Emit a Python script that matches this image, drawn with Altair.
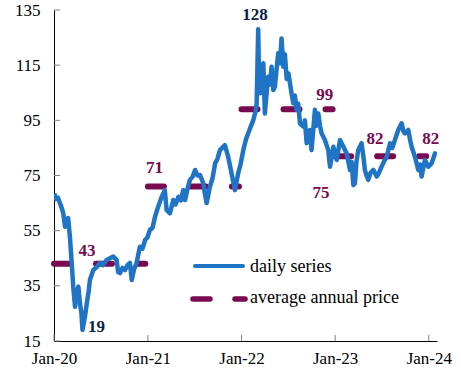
import altair as alt
import pandas as pd

# ---- daily series ----
dates = [
    "2020-01-02", "2020-01-09", "2020-01-16", "2020-01-24", "2020-02-01", "2020-02-06",
    "2020-02-13", "2020-02-18", "2020-02-25", "2020-03-03", "2020-03-10", "2020-03-16",
    "2020-03-23", "2020-03-28", "2020-04-05", "2020-04-11", "2020-04-17", "2020-04-21",
    "2020-05-01", "2020-05-08", "2020-05-15", "2020-05-20", "2020-06-02", "2020-06-17",
    "2020-06-28", "2020-07-10", "2020-07-24", "2020-08-06", "2020-08-19", "2020-09-01",
    "2020-09-07", "2020-09-14", "2020-09-24", "2020-10-04", "2020-10-13", "2020-10-23",
    "2020-10-30", "2020-11-08", "2020-11-18", "2020-12-01", "2020-12-11", "2020-12-21",
    "2020-12-30", "2021-01-09", "2021-01-19", "2021-01-29", "2021-02-10", "2021-02-24",
    "2021-03-08", "2021-03-15", "2021-03-28", "2021-04-10", "2021-04-19", "2021-04-30",
    "2021-05-10", "2021-05-19", "2021-05-26", "2021-06-04", "2021-06-14", "2021-06-24",
    "2021-07-04", "2021-07-13", "2021-07-23", "2021-08-05", "2021-08-11", "2021-08-18",
    "2021-08-31", "2021-09-10", "2021-09-20", "2021-09-29", "2021-10-09", "2021-10-28",
    "2021-11-10", "2021-11-23", "2021-12-06", "2021-12-19", "2021-12-28", "2022-01-08",
    "2022-01-18", "2022-01-27", "2022-02-07", "2022-02-16", "2022-02-24", "2022-03-01",
    "2022-03-07", "2022-03-10", "2022-03-14", "2022-03-20", "2022-03-27", "2022-04-02",
    "2022-04-08", "2022-04-15", "2022-04-22", "2022-04-28", "2022-05-05", "2022-05-11",
    "2022-05-17", "2022-05-24", "2022-05-31", "2022-06-06", "2022-06-13", "2022-06-19",
    "2022-06-26", "2022-07-03", "2022-07-15", "2022-07-22", "2022-07-28", "2022-08-04",
    "2022-08-10", "2022-08-17", "2022-08-30", "2022-09-05", "2022-09-12", "2022-09-18",
    "2022-09-25", "2022-10-01", "2022-10-08", "2022-10-14", "2022-10-20", "2022-10-27",
    "2022-11-03", "2022-11-09", "2022-11-22", "2022-12-05", "2022-12-12", "2022-12-25",
    "2023-01-07", "2023-01-20", "2023-02-02", "2023-02-15", "2023-02-28", "2023-03-06",
    "2023-03-13", "2023-03-19", "2023-03-25", "2023-04-01", "2023-04-14", "2023-04-21",
    "2023-04-27", "2023-05-03", "2023-05-10", "2023-05-19", "2023-05-30", "2023-06-12",
    "2023-06-21", "2023-07-01", "2023-07-10", "2023-07-21", "2023-08-03", "2023-08-12",
    "2023-08-22", "2023-09-04", "2023-09-17", "2023-09-24", "2023-09-30", "2023-10-13",
    "2023-10-20", "2023-10-26", "2023-11-08", "2023-11-21", "2023-11-28", "2023-12-04",
    "2023-12-11", "2023-12-17", "2023-12-30", "2024-01-12", "2024-01-25", "2024-02-01",
]
prices = [
    68.5, 66.5, 67.0, 65.0, 63.0, 61.4,
    56.4, 58.0, 59.6, 52.8, 43.3, 34.7,
    27.4, 32.0, 34.7, 28.8, 25.0, 19.0,
    24.0, 28.8, 33.0, 37.1, 40.7, 42.0,
    43.3, 42.5, 44.4, 45.0, 45.6, 44.4,
    40.0, 39.6, 41.5, 40.7, 42.5, 43.3,
    37.1, 41.0, 43.3, 49.2, 48.5, 51.6,
    52.5, 55.3, 56.0, 60.1, 63.7, 67.3,
    69.7, 62.5, 61.3, 66.1, 64.5, 67.3,
    66.0, 69.7, 66.1, 70.0, 73.4, 74.5,
    77.0, 75.0, 75.2, 72.2, 68.5, 65.0,
    71.0, 74.0, 79.4, 81.0, 84.2, 86.0,
    81.8, 75.8, 69.7, 75.8, 79.0, 84.2,
    88.0, 90.3, 93.0, 95.1, 98.0, 101.0,
    128.0, 112.0, 104.8, 110.0, 115.7, 97.5,
    104.0, 110.8, 108.0, 114.4, 106.0, 107.2,
    113.0, 119.3, 115.7, 124.7, 114.4, 119.0,
    110.0, 112.0, 104.8, 101.2, 104.0, 98.8,
    101.0, 93.9, 92.7, 95.0, 86.7, 90.0,
    91.5, 84.2, 92.0, 98.8, 93.0, 97.5,
    93.0, 90.3, 87.9, 84.2, 78.2, 85.4,
    80.6, 87.9, 85.4, 83.0, 77.0, 80.0,
    71.5, 72.2, 80.0, 84.2, 86.7, 82.0,
    77.0, 75.0, 73.4, 76.0, 77.0, 74.6,
    76.0, 78.2, 80.0, 81.8, 86.7, 85.0,
    87.9, 91.5, 93.9, 91.0, 90.3, 91.5,
    88.0, 85.4, 81.8, 77.0, 79.0, 74.6,
    78.0, 80.6, 78.2, 79.4, 83.0, 82.5,
]

# ---- average annual price ----
avg_start = ["2020-01-01", "2021-01-01", "2022-01-01", "2023-01-01"]
avg_end = ["2020-12-22", "2021-12-22", "2022-12-22", "2023-12-22"]
avg_values = [43, 71, 99, 82]

# ---- annotations ----
ann_text = ["43", "71", "128", "99", "75", "82", "82", "19"]
ann_dates = ["2020-05-09", "2021-01-27", "2022-02-23", "2022-11-21",
             "2022-11-07", "2023-06-05", "2024-01-09", "2020-06-15"]
ann_values = [47.6, 77.9, 133.2, 104.3, 68.7, 88.1, 88.1, 20.1]
ann_colors = ["#7A0A50", "#7A0A50", "#0A1E46", "#7A0A50",
              "#7A0A50", "#7A0A50", "#7A0A50", "#0A1E46"]

y_ticks = [15, 35, 55, 75, 95, 115, 135]
x_tick_dates = ["2020-01-01", "2021-01-01", "2022-01-01", "2023-01-01", "2024-01-01"]

legend_labels = ["daily series", "average annual price"]

BLUE = "#1F74C6"
MAROON = "#7A0A50"
FONT = "'Liberation Serif'"
W, H = 383, 331

T = "T00:00:00"
daily = pd.DataFrame({"date": [d + T for d in dates], "price": prices})
avg = pd.DataFrame({"start": [d + T for d in avg_start],
                    "end": [d + T for d in avg_end], "avg": avg_values})
ann = pd.DataFrame({"date": [d + T for d in ann_dates], "v": ann_values,
                    "label": ann_text, "color": ann_colors})
yt = pd.DataFrame({"v": y_ticks})
xt = pd.DataFrame({"date": [d + T for d in x_tick_dates]})

x_scale = alt.Scale(domain=[alt.DateTime(year=2020, month=1, date=1),
                            alt.DateTime(year=2024, month=2, date=2)])
y_scale = alt.Scale(domain=[15, 135], nice=False, zero=False)

x_axis = alt.Axis(
    values=[alt.DateTime(year=y, month=1, date=1) for y in range(2020, 2025)],
    format="%b-%y", title=None, grid=False, ticks=False, labelPadding=9,
    labelFont=FONT, labelFontSize=17, labelColor="black", domainColor="black",
    labelAngle=0, labelFlush=False,
)
y_axis = alt.Axis(
    values=y_ticks, title=None, grid=False, ticks=False, labelPadding=14,
    labelFont=FONT, labelFontSize=17, labelColor="black", domainColor="black",
)

line = alt.Chart(daily).mark_line(
    color=BLUE, strokeWidth=4.5, strokeJoin="round", clip=True
).encode(
    x=alt.X("date:T", scale=x_scale, axis=x_axis),
    y=alt.Y("price:Q", scale=y_scale, axis=y_axis),
)

avg_rules = alt.Chart(avg).mark_rule(
    color=MAROON, strokeWidth=6, strokeCap="round", strokeDash=[16, 26]
).encode(
    x=alt.X("start:T", scale=x_scale),
    x2="end:T",
    y=alt.Y("avg:Q", scale=y_scale),
)

labels = alt.Chart(ann).mark_text(
    font=FONT, fontSize=17, fontWeight="bold", align="center", baseline="middle"
).encode(
    x=alt.X("date:T", scale=x_scale),
    y=alt.Y("v:Q", scale=y_scale),
    text="label:N",
    color=alt.Color("color:N", scale=None),
)

ytick_marks = alt.Chart(yt).mark_rule(color="#808080", strokeWidth=1).encode(
    x=alt.value(0), x2=alt.value(6), y=alt.Y("v:Q", scale=y_scale)
)
xtick_marks = alt.Chart(xt).mark_rule(color="#808080", strokeWidth=1).encode(
    x=alt.X("date:T", scale=x_scale), y=alt.value(H), y2=alt.value(H - 6)
)

leg_line = alt.Chart(pd.DataFrame({"s": [legend_labels[0]]})).mark_rule(
    color=BLUE, strokeWidth=4, strokeCap="round"
).encode(x=alt.value(141), x2=alt.value(189), y=alt.value(256))
leg_dash = alt.Chart(pd.DataFrame({"s": [legend_labels[1]]})).mark_rule(
    color=MAROON, strokeWidth=5.5, strokeCap="round", strokeDash=[17, 25]
).encode(x=alt.value(139), x2=alt.value(191), y=alt.value(289))
leg_text1 = alt.Chart(pd.DataFrame({"s": [legend_labels[0]]})).mark_text(
    font=FONT, fontSize=18, align="left", baseline="middle", color="black"
).encode(x=alt.value(196), y=alt.value(257), text="s:N")
leg_text2 = alt.Chart(pd.DataFrame({"s": [legend_labels[1]]})).mark_text(
    font=FONT, fontSize=18, align="left", baseline="middle", color="black"
).encode(x=alt.value(196), y=alt.value(288), text="s:N")

chart = alt.layer(
    avg_rules, line, labels, ytick_marks, xtick_marks,
    leg_line, leg_dash, leg_text1, leg_text2,
).properties(
    width=W, height=H,
    padding={"left": 54, "top": 10, "right": 24, "bottom": 35},
    autosize=alt.AutoSizeParams(type="none"),
    background="white",
).configure_view(stroke=None)

chart.save("out.html", embed_options={"renderer": "svg", "actions": False})
